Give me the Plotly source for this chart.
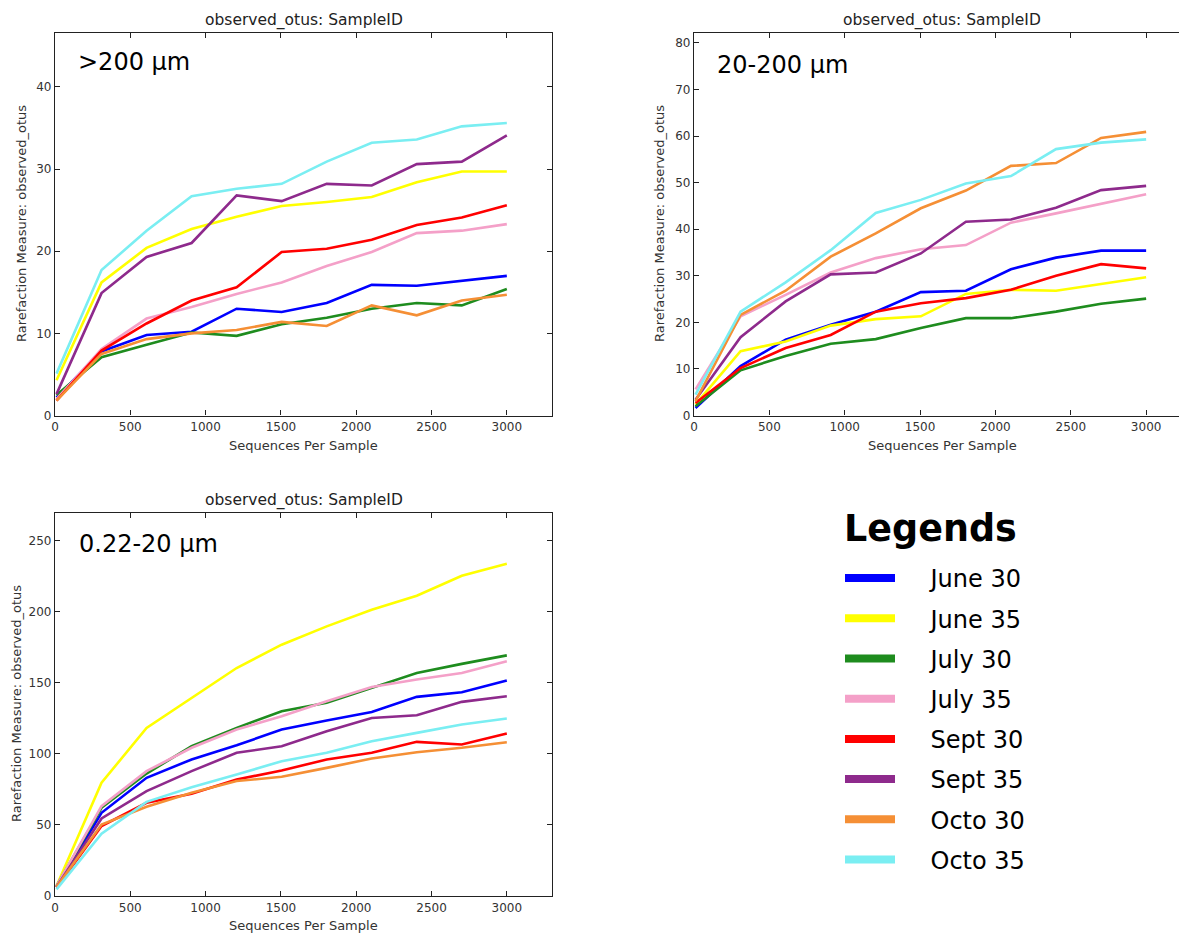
import plotly.graph_objects as go

# Rarefaction depths (sequences per sample)
depths = [10, 309, 608, 907, 1206, 1505, 1804, 2103, 2402, 2701, 3000]

sample_names = ["June 30", "June 35", "July 30", "July 35",
                "Sept 30", "Sept 35", "Octo 30", "Octo 35"]
sample_colors = ["#0000ff", "#ffff00", "#1e8c1e", "#f4a0c8",
                 "#ff0000", "#8e2a8c", "#f58f35", "#7aeef2"]

# >200 µm fraction: observed OTUs
gt200_june30 = [2.2, 7.8, 9.8, 10.2, 13.0, 12.6, 13.7, 15.9, 15.8, 16.4, 17.0]
gt200_june35 = [4.3, 16.2, 20.4, 22.7, 24.2, 25.5, 26.0, 26.6, 28.4, 29.7, 29.7]
gt200_july30 = [2.5, 7.1, 8.6, 10.1, 9.7, 11.1, 11.9, 13.0, 13.7, 13.4, 15.4]
gt200_july35 = [2.0, 8.1, 11.8, 13.2, 14.8, 16.2, 18.2, 19.9, 22.2, 22.5, 23.3]
gt200_sept30 = [1.8, 7.9, 11.2, 14.0, 15.6, 19.9, 20.3, 21.4, 23.2, 24.1, 25.6]
gt200_sept35 = [2.6, 14.9, 19.3, 21.0, 26.8, 26.1, 28.2, 28.0, 30.6, 30.9, 34.1]
gt200_octo30 = [1.8, 7.5, 9.3, 10.0, 10.4, 11.4, 10.9, 13.4, 12.2, 14.0, 14.7]
gt200_octo35 = [5.1, 17.7, 22.5, 26.7, 27.6, 28.2, 30.9, 33.2, 33.6, 35.2, 35.6]

# 20-200 µm fraction
mid_june30 = [1.6, 10.6, 16.3, 19.5, 22.3, 26.5, 26.8, 31.4, 33.9, 35.4, 35.4]
mid_june35 = [2.4, 13.8, 15.9, 19.3, 20.7, 21.3, 26.1, 27.0, 26.8, 28.3, 29.7]
mid_july30 = [2.0, 9.7, 12.8, 15.4, 16.4, 18.8, 20.9, 20.9, 22.3, 24.0, 25.1]
mid_july35 = [5.6, 21.3, 25.9, 30.7, 33.8, 35.7, 36.6, 41.4, 43.4, 45.4, 47.5]
mid_sept30 = [2.7, 10.2, 14.5, 17.3, 22.3, 24.1, 25.2, 27.0, 30.0, 32.5, 31.6]
mid_sept35 = [3.4, 16.8, 24.5, 30.3, 30.7, 34.8, 41.6, 42.1, 44.6, 48.4, 49.3]
mid_octo30 = [3.1, 21.6, 26.8, 34.1, 39.1, 44.5, 48.3, 53.6, 54.2, 59.6, 60.9]
mid_octo35 = [4.5, 22.3, 28.6, 35.5, 43.5, 46.3, 49.8, 51.4, 57.2, 58.6, 59.3]

# 0.22-20 µm fraction
small_june30 = [6.3, 58.5, 83.1, 96.0, 106.0, 117.0, 123.4, 129.4, 140.0, 143.3, 151.5]
small_june35 = [7.0, 79.6, 118.2, 139.3, 160.3, 176.7, 189.6, 201.3, 211.1, 225.2, 233.6]
small_july30 = [7.0, 62.0, 86.1, 105.3, 118.2, 129.9, 135.8, 146.3, 156.8, 163.2, 169.2]
small_july35 = [7.0, 63.2, 87.8, 104.2, 117.0, 126.4, 136.9, 147.0, 152.2, 156.8, 165.0]
small_sept30 = [5.9, 49.2, 65.5, 71.9, 81.9, 88.2, 96.0, 100.7, 108.4, 106.5, 114.2]
small_sept35 = [6.3, 54.5, 73.7, 87.8, 100.7, 105.3, 115.9, 125.2, 127.1, 136.5, 140.4]
small_octo30 = [6.3, 50.3, 62.7, 72.6, 80.8, 83.8, 90.1, 96.7, 101.1, 104.2, 108.1]
small_octo35 = [4.7, 43.8, 66.2, 76.5, 85.4, 94.8, 100.7, 108.8, 114.7, 120.6, 124.8]

x_ticks = [0, 500, 1000, 1500, 2000, 2500, 3000]

W, H = 1179, 933


def fx(p):
    return p / W


def fy(p):
    return 1 - p / H


panels = [
    dict(label=">200 µm", xa="x", ya="y",
         series=[gt200_june30, gt200_june35, gt200_july30, gt200_july35,
                 gt200_sept30, gt200_sept35, gt200_octo30, gt200_octo35]),
    dict(label="20-200 µm", xa="x2", ya="y2",
         series=[mid_june30, mid_june35, mid_july30, mid_july35,
                 mid_sept30, mid_sept35, mid_octo30, mid_octo35]),
    dict(label="0.22-20 µm", xa="x3", ya="y3",
         series=[small_june30, small_june35, small_july30, small_july35,
                 small_sept30, small_sept35, small_octo30, small_octo35]),
]

fig = go.Figure()

for panel in panels:
    for name, color, values in zip(sample_names, sample_colors, panel["series"]):
        fig.add_trace(go.Scatter(
            x=depths, y=values, mode="lines", name=name,
            line=dict(color=color, width=2.6),
            xaxis=panel["xa"], yaxis=panel["ya"],
            legendgroup=name, showlegend=False, hoverinfo="x+y+name",
        ))

# Thick swatches for the legend
for name, color in zip(sample_names, sample_colors):
    fig.add_trace(go.Scatter(
        x=[None], y=[None], mode="lines", name="\u00a0" * 4 + name,
        line=dict(color=color, width=8), legendgroup=name,
        showlegend=True, xaxis="x", yaxis="y",
    ))

tick_font = dict(family="DejaVu Sans", size=12, color="#333333")
axis_common = dict(
    showline=True, linecolor="#222222", linewidth=1.2,
    ticks="inside", ticklen=5, tickwidth=1, tickcolor="#222222",
    showgrid=False, zeroline=False, tickfont=tick_font, automargin=False,
)

# Axes positions (pixel boxes converted to paper fractions)
left_dom = [fx(55), fx(552)]
right_dom = [fx(694), 1.0]
top_dom = [fy(415.5), fy(32.7)]
bottom_dom = [fy(896), fy(512.7)]

fig.update_layout(
    xaxis=dict(domain=left_dom, anchor="y", range=[0, 3300], tickvals=x_ticks,
               mirror="allticks", **axis_common),
    yaxis=dict(domain=top_dom, anchor="x", range=[0, 46.6], dtick=10,
               mirror="allticks", **axis_common),
    xaxis2=dict(domain=right_dom, anchor="y2", range=[0, 3218], tickvals=x_ticks,
                mirror="allticks", **axis_common),
    yaxis2=dict(domain=top_dom, anchor="x2", range=[0, 82.2], dtick=10,
                mirror=False, **axis_common),
    xaxis3=dict(domain=left_dom, anchor="y3", range=[0, 3300], tickvals=x_ticks,
                mirror="allticks", **axis_common),
    yaxis3=dict(domain=bottom_dom, anchor="x3", range=[0, 269.5], dtick=50,
                mirror="allticks", **axis_common),
)

annotations = []
title_font = dict(family="DejaVu Sans", size=15.5, color="#222222")
label_font = dict(family="DejaVu Sans", size=13, color="#333333")
big_font = dict(family="DejaVu Sans", size=24, color="#000000")

# Subplot titles and axis labels
for cx, ty, xly, ylx, ycy in [
    (303.5, 20, 445, 22, 224),
    (942, 20, 445, 660, 224),
    (303.5, 500, 925, 16, 704),
]:
    annotations.append(dict(text="observed_otus: SampleID", x=fx(cx), y=fy(ty),
                            xref="paper", yref="paper", showarrow=False,
                            xanchor="center", yanchor="middle", font=title_font))
    annotations.append(dict(text="Sequences Per Sample", x=fx(cx), y=fy(xly),
                            xref="paper", yref="paper", showarrow=False,
                            xanchor="center", yanchor="middle", font=label_font))
    annotations.append(dict(text="Rarefaction Measure: observed_otus", x=fx(ylx),
                            y=fy(ycy), xref="paper", yref="paper", showarrow=False,
                            textangle=-90, xanchor="center", yanchor="middle",
                            font=label_font))

# Size-fraction labels inside each panel
for panel, (lx, ly) in zip(panels, [(76, 62), (715, 65), (77, 544)]):
    annotations.append(dict(text=panel["label"], x=fx(lx), y=fy(ly),
                            xref="paper", yref="paper", showarrow=False,
                            xanchor="left", yanchor="middle", font=big_font))

# Heading above the legend
annotations.append(dict(text="<b>Legends</b>", x=fx(842), y=fy(528),
                        xref="paper", yref="paper", showarrow=False,
                        xanchor="left", yanchor="middle",
                        font=dict(family="DejaVu Sans", size=36.5, color="#000000")))

fig.update_layout(
    width=W, height=H,
    margin=dict(l=0, r=0, t=0, b=0),
    paper_bgcolor="white", plot_bgcolor="white",
    annotations=annotations,
    legend=dict(
        font=dict(family="DejaVu Sans", size=24, color="#000000"),
        x=fx(840), y=fy(556), xanchor="left", yanchor="top",
        itemwidth=50, tracegroupgap=6, bgcolor="rgba(0,0,0,0)",
    ),
)

fig.write_html("out.html")
